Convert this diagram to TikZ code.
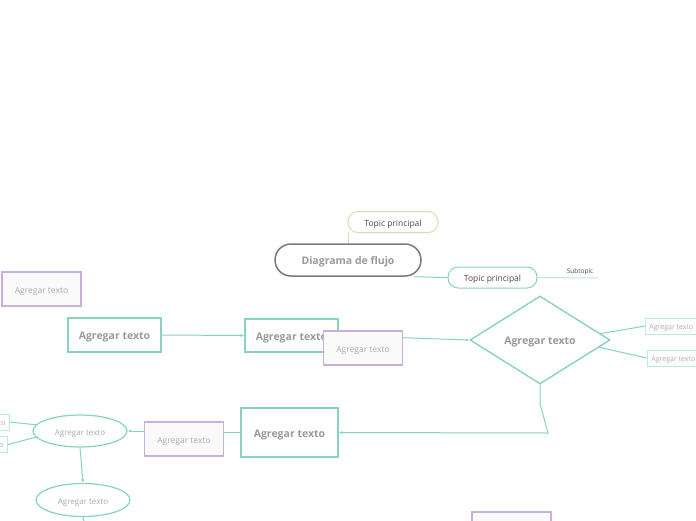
\documentclass[tikz,border=0pt]{standalone}
\usepackage{fontspec}
\setmainfont{Open Sans}
\usetikzlibrary{arrows.meta,shapes.geometric}

\definecolor{flowteal}{HTML}{86D3C4}
\definecolor{lightteal}{HTML}{BDE8DF}
\definecolor{flowpurple}{HTML}{C9B0DC}
\definecolor{flowbeige}{HTML}{E3D7B5}
\definecolor{flowgray}{HTML}{9A9A9A}
\definecolor{softgray}{HTML}{ABABAB}
\definecolor{darktext}{HTML}{4A4A4A}
\definecolor{rootgray}{HTML}{7A7A7A}

\tikzset{
  tealbox/.style={draw=flowteal, line width=1.6pt, fill=white, text=flowgray,
    font=\bfseries\fontsize{10.5}{12}\selectfont, minimum width=93pt, minimum height=34pt, inner sep=0pt,
    text height=9pt, text depth=0pt},
  purplebox/.style={draw=flowpurple, line width=1.4pt, fill=black!2, text=softgray,
    font=\fontsize{8.5}{10}\selectfont, minimum width=79pt, minimum height=34pt, inner sep=0pt,
    text height=8.5pt, text depth=0pt},
  smallbox/.style={draw=lightteal, line width=0.8pt, fill=white, text=softgray,
    font=\fontsize{7}{8}\selectfont, minimum height=16pt, inner xsep=4pt, inner ysep=0pt,
    text height=6pt, text depth=0pt},
  ovalnode/.style={ellipse, draw=flowteal, line width=1.2pt, fill=white, text=softgray,
    font=\fontsize{8}{9}\selectfont, minimum width=94pt, minimum height=32pt, inner sep=0pt,
    text height=8pt, text depth=0pt},
  decision/.style={diamond, draw=flowteal, line width=1.4pt, fill=white, text=flowgray,
    font=\bfseries\fontsize{10.5}{12}\selectfont, minimum width=140pt, minimum height=88pt,
    aspect=1.6, inner sep=0pt, text height=9pt, text depth=0pt},
  topicnode/.style={rounded corners=10pt, line width=1pt, fill=white, text=darktext,
    font=\fontsize{8.5}{10}\selectfont, minimum height=21pt, inner sep=0pt,
    text height=8pt, text depth=0pt},
  rootnode/.style={rounded corners=16pt, draw=rootgray, line width=1.5pt, fill=white, text=flowgray,
    font=\bfseries\fontsize{10.5}{12}\selectfont, minimum width=146pt, minimum height=32pt, inner sep=0pt,
    text height=9pt, text depth=0pt},
  tealline/.style={draw=flowteal, line width=1pt},
  arrowline/.style={tealline, -{Latex[length=3.5pt,width=3pt]}}
}

\begin{document}
\begin{tikzpicture}[x=1pt,y=-1pt]
\clip (0,0) rectangle (696,520);
\fill[white] (0,0) rectangle (696,520);

% mind map part
\node[topicnode, draw=flowbeige, minimum width=90pt] (tp1) at (393,222) {Topic principal};
\node[rootnode] (root) at (348,260) {Diagrama de flujo};
\node[topicnode, draw=flowteal, minimum width=89pt] (tp2) at (492.5,277.5) {Topic principal};
\coordinate (subend) at (598,278);
\node[text=darktext, font=\fontsize{6.5}{7}\selectfont, anchor=south, inner sep=1pt] (sub) at (580,276) {Subtopic};
\draw[draw=flowbeige, line width=1pt] (root.north) -- (root.north |- tp1.south);
\draw[tealline] ([xshift=-8pt]root.south east) to[out=0,in=180] (tp2.west);
\draw[draw=lightteal, line width=1pt] (tp2.east) -- (subend);

% flow chart
\node[purplebox] (p1) at (41.5,289) {Agregar texto};
\node[tealbox] (a1) at (114.5,335) {Agregar texto};
\node[tealbox, minimum height=33pt] (a2) at (291.5,335.5) {Agregar texto};
\node[decision] (dec) at (540,340) {Agregar texto};
\draw[arrowline] (a1.east) -- (a2.west);
\draw[arrowline] (a2.east) -- (dec.west);
\node[purplebox] (p2) at (363,348) {Agregar texto};

\node[smallbox, anchor=west] (r1) at (645,326) {Agregar texto};
\node[smallbox, anchor=west] (r2) at (647,358) {Agregar texto};
\draw[tealline] (dec.6) -- (r1.west);
\draw[tealline] (dec.-7) -- (r2.west);

\node[tealbox, minimum width=97pt, minimum height=49pt] (b4) at (289.5,432.5) {Agregar texto};
\coordinate (bend) at (548,433);
\draw[arrowline] (dec.south) -- ++(0,19) -- (bend) -- (b4.east);

\node[purplebox] (p3) at (184,439) {Agregar texto};
\node[ovalnode] (e1) at (80,431) {Agregar texto};
\node[ovalnode, minimum height=33pt] (e2) at (83,500) {Agregar texto};
\draw[tealline] (b4.west) -- (b4.west -| p3.east);
\draw[arrowline] (e1.east -| p3.west) -- (e1.east);
\draw[arrowline] (e1.south) -- (e2.north);
\coordinate (e2out) at (85,525);
\draw[tealline] (e2.south) -- (e2out);

\node[smallbox, anchor=east] (l1) at (10,422) {Agregar texto};
\node[smallbox, anchor=east] (l2) at (8,444.5) {Agregar texto};
\draw[tealline] (l1.east) -- (e1.172);
\draw[tealline] (l2.east) -- (e1.-172);

\node[purplebox] (p4) at (511.5,529) {Agregar texto};
\end{tikzpicture}
\end{document}
